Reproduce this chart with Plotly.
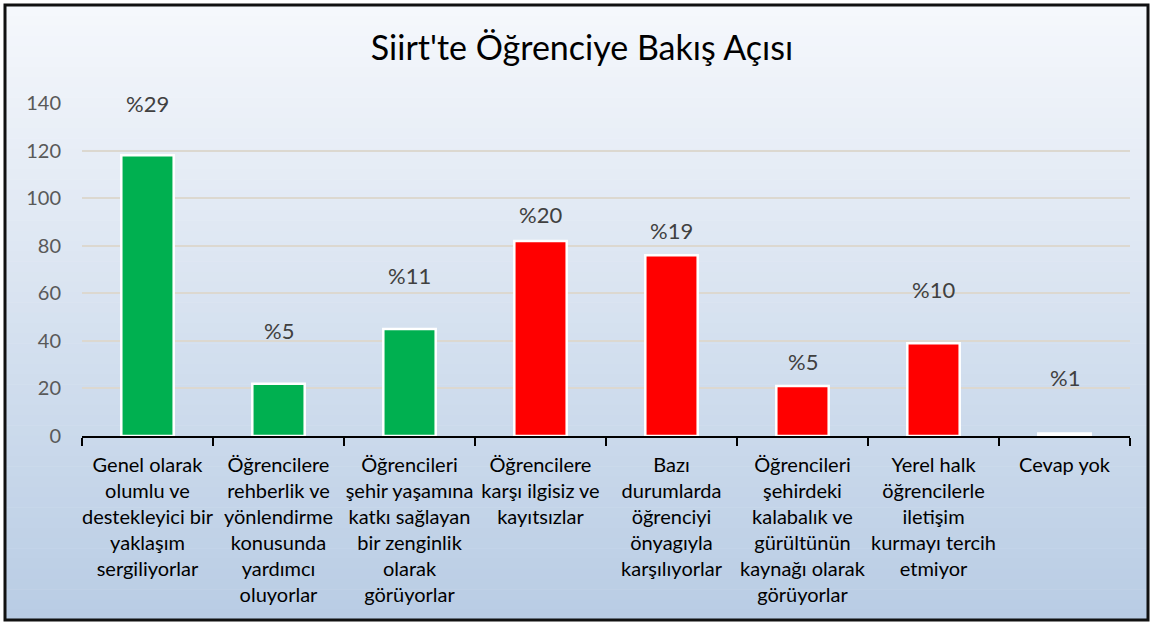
import plotly.graph_objects as go

categories = [
    "Genel olarak<br>olumlu ve<br>destekleyici bir<br>yaklaşım<br>sergiliyorlar",
    "Öğrencilere<br>rehberlik ve<br>yönlendirme<br>konusunda<br>yardımcı<br>oluyorlar",
    "Öğrencileri<br>şehir yaşamına<br>katkı sağlayan<br>bir zenginlik<br>olarak<br>görüyorlar",
    "Öğrencilere<br>karşı ilgisiz ve<br>kayıtsızlar",
    "Bazı<br>durumlarda<br>öğrenciyi<br>önyagıyla<br>karşılıyorlar",
    "Öğrencileri<br>şehirdeki<br>kalabalık ve<br>gürültünün<br>kaynağı olarak<br>görüyorlar",
    "Yerel halk<br>öğrencilerle<br>iletişim<br>kurmayı tercih<br>etmiyor",
    "Cevap yok",
]
values = [118, 22, 45, 82, 76, 21, 39, 1]
bar_colors = ["#00B050", "#00B050", "#00B050", "#FF0000", "#FF0000", "#FF0000", "#FF0000", "#4F74AE"]
pct_labels = ["%29", "%5", "%11", "%20", "%19", "%5", "%10", "%1"]
label_y = [140, 44.5, 67.5, 93, 86.5, 31.5, 61.5, 24.5]

FONT = "Lato, Open Sans, sans-serif"

fig = go.Figure()
fig.add_trace(go.Bar(
    x=categories, y=values,
    marker=dict(color=bar_colors, line=dict(color="white", width=2.5)),
    width=0.40,
    hoverinfo="x+y",
))

for c, t, yy in zip(categories, pct_labels, label_y):
    fig.add_annotation(x=c, y=yy, text=t, showarrow=False, yanchor="middle",
                       font=dict(family=FONT, size=22, color="#404040"))

# gradient background via stacked rectangles (paper coords)
L, R = 82, 1130
T, B = 103, 436
W, H = R - L, B - T
def px(x):
    return (x - L) / W
def py(y):
    return (B - y) / H

top_c = (246, 248, 252)
bot_c = (184, 204, 228)
n = 60
y0, y1 = 5, 620
shapes = []
for i in range(n):
    ya = y0 + (y1 - y0) * i / n
    yb = y0 + (y1 - y0) * (i + 1) / n + 0.5
    f = (i + 0.5) / n
    col = tuple(round(top_c[k] + (bot_c[k] - top_c[k]) * f) for k in range(3))
    shapes.append(dict(type="rect", xref="paper", yref="paper", layer="below",
                       x0=px(5), x1=px(1148), y0=py(yb), y1=py(ya),
                       fillcolor="rgb(%d,%d,%d)" % col, line=dict(width=0)))
shapes.append(dict(type="rect", xref="paper", yref="paper", layer="above",
                   x0=px(5), x1=px(1148), y0=py(620), y1=py(5),
                   fillcolor="rgba(0,0,0,0)", line=dict(color="#111111", width=3)))
fig.update_layout(shapes=shapes)

fig.update_layout(
    width=1152, height=624,
    margin=dict(l=L, r=1152 - R, t=T, b=624 - B),
    paper_bgcolor="white",
    plot_bgcolor="rgba(0,0,0,0)",
    showlegend=False,
    title=dict(text="Siirt'te Öğrenciye Bakış Açısı", x=0.5 + 6 / 1152, xref="container", xanchor="center",
               y=1 - 48 / 624, yref="container", yanchor="middle",
               font=dict(family=FONT, size=34, color="#000000")),
)
fig.update_yaxes(range=[0, 140], dtick=20, showgrid=True, gridcolor="#dcd8d0", gridwidth=2,
                 zeroline=False, showline=False, ticks="",
                 ticklabelstandoff=20,
                 tickfont=dict(family=FONT, size=20, color="#595959"))
fig.update_xaxes(showline=True, linecolor="black", linewidth=2, ticks="outside",
                 tickson="boundaries", ticklen=8, tickcolor="black", tickwidth=2,
                 tickangle=0, ticklabelstandoff=10,
                 tickfont=dict(family=FONT, size=20, color="#000000"))

fig.write_html("out.html", config={"displayModeBar": False},
               post_script="document.body.style.margin='0';document.body.style.overflow='hidden';")
